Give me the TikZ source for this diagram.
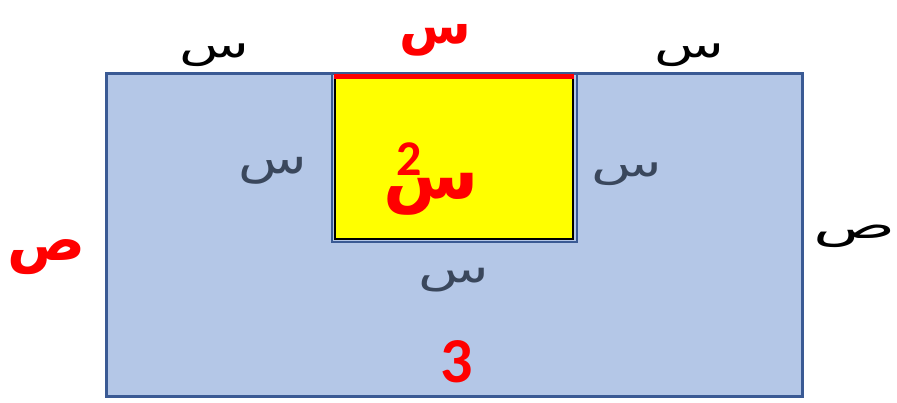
\documentclass[tikz,border=0pt]{standalone}
\usepackage{fontspec}
\TeXXeTstate=1
\newfontfamily\arabicfont[Script=Arabic]{DejaVu Sans}
\newfontfamily\digitfont{Carlito}
\definecolor{bluefill}{HTML}{B4C7E7}
\definecolor{blueedge}{HTML}{3A5A94}
\definecolor{innerlbl}{HTML}{3A475C}
\definecolor{myred}{HTML}{FF0000}
\definecolor{myyellow}{HTML}{FFFF00}
\begin{document}
\begin{tikzpicture}[x=1pt,y=-1pt,
  lbl/.style={inner sep=0pt,anchor=center,font=\arabicfont\fontsize{34}{40}\selectfont},
  redlbl/.style={inner sep=0pt,anchor=center,text=myred,font=\arabicfont\bfseries\fontsize{44}{50}\selectfont},
  digit/.style={inner sep=0pt,anchor=center,text=myred,font=\digitfont\bfseries\fontsize{64}{70}\selectfont}]
\useasboundingbox (0,0) rectangle (897,403);
% shapes
\draw[fill=bluefill,draw=blueedge,line width=3pt] (106,74) rectangle (802,396);
\draw[draw=blueedge,line width=2pt] (332,74) rectangle (577,242);
\draw[fill=myyellow,draw=black,line width=2.5pt] (335,75) rectangle (573,239);
\draw[draw=myred,line width=5pt] (334,76.5) -- (574,76.5);
% labels
\node[lbl,xscale=1.68,yscale=1.1] (s1) at (214,55.5) {\beginR س\endR};
\node[lbl,xscale=1.68,yscale=1.1] (s2) at (689,55.5) {\beginR س\endR};
\node[lbl,text=innerlbl,xscale=1.65,yscale=1.3] (s3) at (272.5,170.5) {\beginR س\endR};
\node[lbl,text=innerlbl,xscale=1.7,yscale=1.1] (s4) at (626.5,174) {\beginR س\endR};
\node[lbl,text=innerlbl,xscale=1.7,yscale=1.15] (s5) at (454,280) {\beginR س\endR};
\node[lbl,xscale=2.0,yscale=1.1] (p1) at (855,236) {\beginR ص\endR};
\node[redlbl,font=\arabicfont\bfseries\fontsize{52}{58}\selectfont] (s6) at (435,40) {\beginR س\endR};
\node[redlbl,font=\arabicfont\bfseries\fontsize{58}{64}\selectfont] (p2) at (46.5,257) {\beginR ص\endR};
\node[redlbl,font=\arabicfont\bfseries\fontsize{69}{75}\selectfont] (sq) at (431,194.5) {\beginR س\endR};
\node[digit,font=\digitfont\bfseries\fontsize{50}{56}\selectfont] (two) at (409,159) {2};
\node[digit] (three) at (457,362) {3};
\end{tikzpicture}
\end{document}
